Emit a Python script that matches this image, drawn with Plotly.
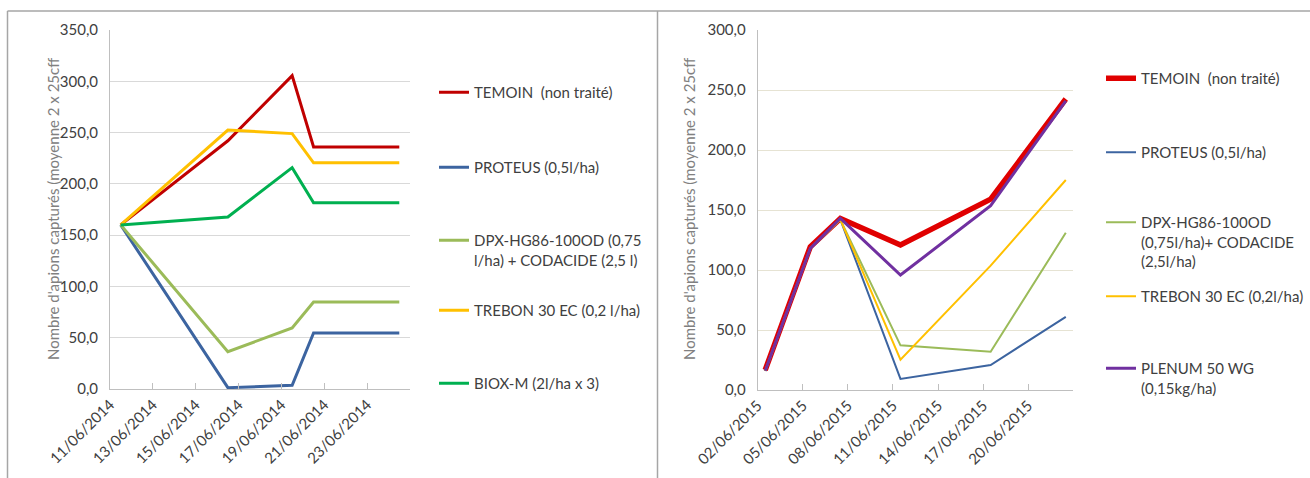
import plotly.graph_objects as go

W, H = 1310, 478
FONT = "Lato"

# ---------------- data: left chart (2014) ----------------
left_dates = ["2014-06-11", "2014-06-16", "2014-06-19", "2014-06-20", "2014-06-24"]
left_names = ["TEMOIN  (non traité)", "PROTEUS (0,5l/ha)",
              "DPX-HG86-100OD (0,75<br>l/ha) + CODACIDE (2,5 l)",
              "TREBON 30 EC (0,2 l/ha)", "BIOX-M (2l/ha x 3)"]
left_temoin = [160.0, 242.0, 305.5, 236.0, 236.0]
left_proteus = [160.0, 1.3, 3.6, 54.6, 54.6]
left_dpx = [160.0, 36.4, 59.5, 84.8, 84.8]
left_trebon = [160.0, 252.5, 249.0, 220.5, 220.5]
left_biox = [160.0, 167.7, 215.8, 181.5, 181.5]
left_tickvals = ["2014-06-11", "2014-06-13", "2014-06-15", "2014-06-17",
                 "2014-06-19", "2014-06-21", "2014-06-23", "2014-06-25"]
left_ticktext = ["11/06/2014", "13/06/2014", "15/06/2014", "17/06/2014",
                 "19/06/2014", "21/06/2014", "23/06/2014", ""]
left_yticks = [0, 50, 100, 150, 200, 250, 300, 350]

# ---------------- data: right chart (2015) ----------------
right_dates = ["2015-06-02", "2015-06-05", "2015-06-07", "2015-06-11", "2015-06-17", "2015-06-22"]
right_names = ["TEMOIN  (non traité)", "PROTEUS (0,5l/ha)",
               "DPX-HG86-100OD<br>(0,75l/ha)+ CODACIDE<br>(2,5l/ha)",
               "TREBON 30 EC (0,2l/ha)", "PLENUM 50 WG<br>(0,15kg/ha)"]
right_temoin = [16.7, 119.4, 143.0, 120.8, 159.0, 242.5]
right_proteus = [16.0, 118.0, 142.0, 9.2, 20.8, 61.0]
right_dpx = [16.0, 118.0, 142.0, 37.2, 31.9, 131.0]
right_trebon = [16.0, 118.0, 142.0, 25.3, 103.6, 175.0]
right_plenum = [16.0, 118.0, 143.0, 95.8, 153.6, 241.0]
right_tickvals = ["2015-06-02", "2015-06-05", "2015-06-08", "2015-06-11",
                  "2015-06-14", "2015-06-17", "2015-06-20", "2015-06-23"]
right_ticktext = ["02/06/2015", "05/06/2015", "08/06/2015", "11/06/2015",
                  "14/06/2015", "17/06/2015", "20/06/2015", ""]
right_yticks = [0, 50, 100, 150, 200, 250, 300]

ytitle = "Nombre d'apions capturés (moyenne 2 x 25cff"

# ---------------- styles ----------------
left_colors = ["#C00000", "#3C64A0", "#9BBB59", "#FFC000", "#00B050"]
left_widths = [3, 3, 3, 3, 3]
right_colors = ["#E00000", "#3C64A0", "#9BBB59", "#FFC000", "#7030A0"]
right_widths = [5.5, 2, 2, 2, 3]

# legend placement (pixel rows of first text line)
left_leg_y = [92, 167, 240, 310, 383]
right_leg_y = [78, 152, 222, 296, 368]
left_leg_x = 434
right_leg_x = 1101

DAY = 86400000

fig = go.Figure()

def px_x(x):
    return x / W

def px_y(y):
    return (H - y) / H

left_series = [left_temoin, left_proteus, left_dpx, left_trebon, left_biox]
right_series = [right_temoin, right_proteus, right_dpx, right_trebon, right_plenum]

leg_font = dict(family=FONT, size=15, color="#404040")
legend_layouts = {}
li = 1
for i, (name, vals) in enumerate(zip(left_names, left_series)):
    lname = "legend" if li == 1 else f"legend{li}"
    fig.add_trace(go.Scatter(
        x=left_dates, y=vals, name=name, mode="lines",
        xperiod=DAY, xperiodalignment="middle",
        line=dict(color=left_colors[i], width=left_widths[i]),
        xaxis="x", yaxis="y", legend=lname, showlegend=True))
    legend_layouts[lname] = dict(
        x=px_x(left_leg_x), y=px_y(left_leg_y[i] - 16), xanchor="left", yanchor="top",
        bgcolor="rgba(0,0,0,0)", font=leg_font, valign="top", itemwidth=30)
    li += 1

for i in range(5):
    name, vals = right_names[i], right_series[i]
    lname = f"legend{li}"
    fig.add_trace(go.Scatter(
        x=right_dates, y=vals, name=name, mode="lines",
        xperiod=DAY, xperiodalignment="middle",
        line=dict(color=right_colors[i], width=right_widths[i]),
        xaxis="x2", yaxis="y2", legend=lname, showlegend=True))
    legend_layouts[lname] = dict(
        x=px_x(right_leg_x), y=px_y(right_leg_y[i] - 16), xanchor="left", yanchor="top",
        bgcolor="rgba(0,0,0,0)", font=leg_font, valign="top", itemwidth=30)
    li += 1

axis_font = dict(family=FONT, size=15, color="#404040")

xcommon = dict(type="date", showgrid=False, showline=True, linecolor="#BFBFBF", linewidth=1,
               ticks="inside", ticklen=6, tickcolor="#BFBFBF", tickangle=-45,
               tickfont=axis_font, zeroline=False, fixedrange=True, automargin=False)
ycommon = dict(showgrid=True, showline=True, linecolor="#BFBFBF", linewidth=1,
               ticks="", tickfont=axis_font, tickformat=".1f", zeroline=False,
               fixedrange=True, ticklabelstandoff=8, automargin=False)

fig.update_layout(
    width=W, height=H,
    margin=dict(l=0, r=0, t=0, b=0, autoexpand=False),
    paper_bgcolor="white", plot_bgcolor="white",
    separators=", ",
    font=dict(family=FONT, size=14, color="#404040"),
    xaxis=dict(xcommon, domain=[px_x(110), px_x(410)],
               range=[left_tickvals[0], left_tickvals[-1]],
               tickmode="array", tickvals=left_tickvals, ticktext=left_ticktext, anchor="y"),
    yaxis=dict(ycommon, domain=[px_y(389), px_y(30)], range=[0, 350],
               tickmode="array", tickvals=left_yticks, gridcolor="#D9D9D9", anchor="x"),
    xaxis2=dict(xcommon, domain=[px_x(757.7), px_x(1073.3)],
                range=[right_tickvals[0], right_tickvals[-1]],
                tickmode="array", tickvals=right_tickvals, ticktext=right_ticktext, anchor="y2"),
    yaxis2=dict(ycommon, domain=[px_y(390), px_y(30)], range=[0, 300],
                tickmode="array", tickvals=right_yticks, gridcolor="#E6E3D3", anchor="x2"),
    **legend_layouts,
)

# y-axis titles
for xc in (42, 689):
    fig.add_annotation(text=ytitle, textangle=-90, x=px_x(xc), y=px_y(209),
                       xref="paper", yref="paper", showarrow=False,
                       font=dict(family=FONT, size=15, color="#808080"))

# chart frames
frame = dict(color="#A6A6A6", width=1.5)
fig.add_shape(type="line", xref="paper", yref="paper", x0=px_x(7.5), x1=px_x(7.5),
              y0=0, y1=px_y(11), line=frame)
fig.add_shape(type="line", xref="paper", yref="paper", x0=px_x(7.5), x1=1,
              y0=px_y(11), y1=px_y(11), line=frame)
fig.add_shape(type="line", xref="paper", yref="paper", x0=px_x(657.5), x1=px_x(657.5),
              y0=0, y1=px_y(11), line=frame)

fig.write_html("out.html")
